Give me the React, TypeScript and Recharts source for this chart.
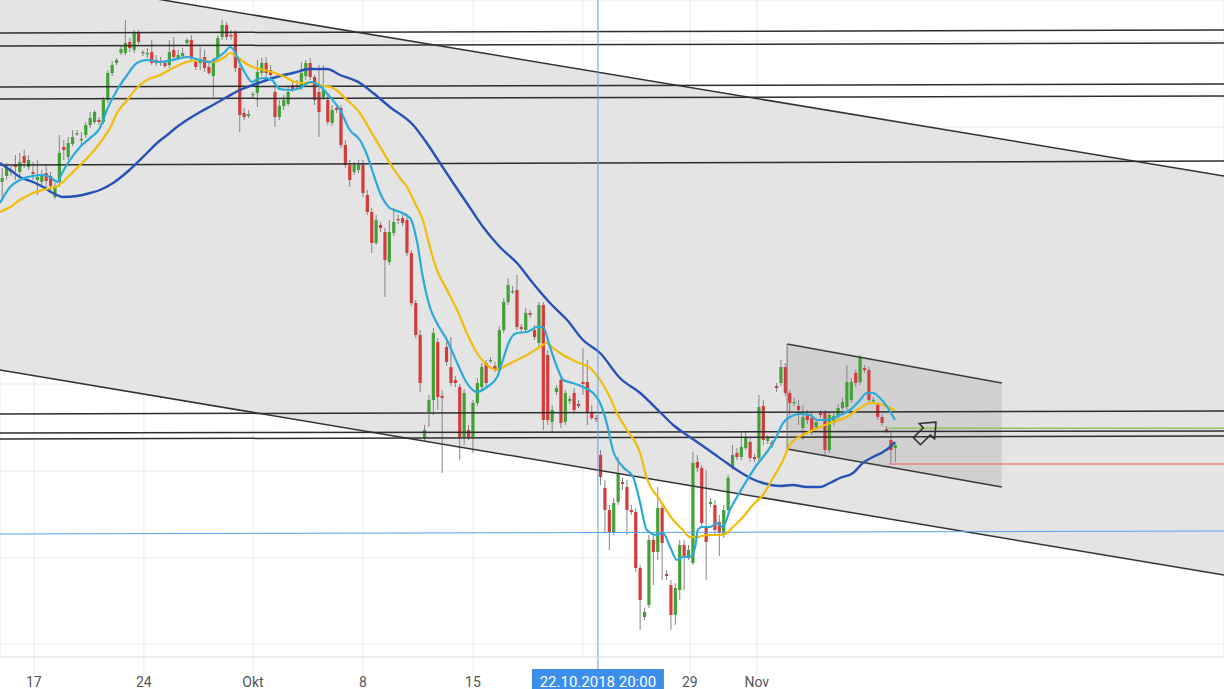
import React from 'react';
import {
  ComposedChart, Bar, Line, Area, XAxis, YAxis, CartesianGrid, ReferenceLine, ReferenceDot,
} from 'recharts';

const W = 1224;
const H = 689;

// one unit on the time axis = one bar slot, price in chart points (axis hidden in the screenshot)
const opens = [
  818, 824, 830, 835, 828, 844, 833, 828, 820, 818,
  827, 824, 803, 818, 853, 843, 856, 866, 860, 865,
  875, 878, 880, 878, 900, 927, 937, 947, 947, 958,
  950, 967, 947, 946, 948, 940, 938, 937, 935, 950,
  942, 944, 957, 960, 938, 937, 943, 933, 924, 943,
  963, 975, 965, 967, 932, 887, 884, 905, 907, 927,
  937, 930, 908, 883, 894, 896, 915, 915, 913, 924,
  937, 923, 908, 903, 900, 877, 892, 892, 855, 835,
  828, 830, 835, 805, 788, 757, 775, 768, 738, 767,
  781, 782, 780, 747, 697, 665, 562, 588, 600, 658,
  604, 653, 633, 620, 613, 563, 570, 563, 597, 613,
  637, 639, 634, 630, 670, 698, 708, 710, 673, 670,
  687, 670, 657, 695, 645, 578, 608, 620, 578, 599,
  607, 596, 618, 618, 587, 582, 545, 512, 490, 468,
  498, 518, 513, 490, 488, 432, 383, 395, 460, 448,
  492, 426, 415, 385, 410, 455, 443, 437, 538, 532,
  472, 496, 495, 478, 465, 490, 533, 547, 543, 552,
  558, 543, 542, 594, 559, 558, 614, 617, 633, 607,
  597, 594, 572, 585, 582, 573, 587, 587, 550, 577,
  583, 592, 593, 600, 627, 618, 632, 630, 599, 595,
  583, 571, 560, 552,
];

const highs = [
  832, 837, 834, 845, 847, 850, 845, 838, 840, 830,
  835, 828, 817, 865, 860, 863, 870, 870, 868, 878,
  888, 890, 883, 903, 930, 939, 942, 955, 980, 962,
  970, 970, 950, 952, 960, 945, 943, 940, 960, 963,
  950, 952, 962, 965, 942, 953, 950, 938, 942, 965,
  980, 978, 970, 970, 935, 892, 890, 908, 940, 942,
  943, 935, 915, 900, 905, 915, 920, 920, 938, 940,
  942, 925, 935, 935, 905, 895, 895, 895, 860, 840,
  838, 840, 840, 810, 792, 785, 778, 772, 780, 792,
  785, 785, 785, 750, 700, 670, 575, 605, 672, 662,
  610, 663, 663, 624, 616, 611, 575, 600, 622, 637,
  640, 643, 638, 674, 702, 722, 714, 725, 676, 692,
  690, 675, 698, 698, 650, 595, 615, 625, 610, 604,
  612, 600, 652, 640, 595, 585, 550, 520, 495, 502,
  543, 522, 520, 495, 492, 435, 392, 465, 465, 513,
  495, 430, 420, 417, 460, 460, 455, 548, 545, 535,
  530, 502, 500, 485, 495, 525, 555, 552, 568, 568,
  562, 546, 605, 600, 565, 560, 617, 640, 637, 610,
  602, 600, 595, 590, 588, 582, 590, 590, 588, 588,
  596, 602, 635, 622, 630, 645, 635, 633, 603, 598,
  586, 574, 568, 558,
];

const lows = [
  803, 820, 824, 820, 823, 832, 830, 820, 805, 814,
  812, 810, 801, 813, 840, 840, 854, 864, 853, 862,
  872, 876, 875, 876, 897, 924, 935, 945, 945, 948,
  947, 956, 944, 942, 935, 934, 934, 932, 932, 940,
  940, 942, 954, 938, 930, 930, 928, 925, 903, 940,
  960, 960, 960, 928, 868, 880, 882, 902, 893, 924,
  922, 920, 873, 880, 890, 894, 908, 910, 910, 920,
  920, 895, 863, 900, 875, 874, 887, 852, 832, 813,
  825, 827, 803, 785, 747, 755, 768, 703, 735, 764,
  776, 774, 744, 694, 662, 608, 559, 573, 585, 590,
  527, 634, 614, 613, 540, 555, 560, 547, 594, 610,
  614, 637, 628, 627, 667, 695, 706, 670, 668, 667,
  682, 660, 653, 570, 575, 568, 605, 572, 575, 596,
  587, 592, 605, 575, 580, 578, 515, 467, 450, 465,
  495, 510, 465, 485, 428, 370, 380, 392, 415, 440,
  420, 420, 370, 375, 400, 410, 440, 435, 528, 472,
  420, 493, 465, 444, 462, 488, 530, 540, 540, 550,
  538, 538, 538, 555, 556, 552, 608, 614, 604, 585,
  594, 575, 560, 576, 565, 570, 582, 545, 547, 574,
  580, 590, 590, 597, 613, 615, 627, 597, 597, 580,
  574, 567, 537, 538,
];

const closes = [
  822, 832, 828, 833, 838, 837, 840, 826, 823, 825,
  819, 814, 814, 847, 850, 857, 863, 867, 861, 875,
  882, 888, 878, 900, 927, 935, 940, 951, 957, 952,
  967, 958, 948, 947, 937, 937, 939, 934, 948, 943,
  945, 947, 960, 942, 933, 939, 932, 927, 940, 962,
  975, 963, 964, 932, 885, 883, 886, 906, 928, 937,
  927, 925, 883, 894, 900, 908, 910, 913, 927, 937,
  923, 900, 888, 910, 878, 890, 890, 855, 835, 820,
  835, 835, 807, 788, 757, 780, 772, 740, 768, 778,
  780, 777, 747, 697, 665, 617, 570, 600, 667, 603,
  602, 638, 617, 617, 563, 607, 563, 597, 617, 633,
  617, 640, 630, 670, 698, 715, 709, 673, 671, 687,
  685, 663, 695, 580, 580, 590, 612, 577, 607, 601,
  590, 594, 616, 587, 582, 581, 523, 490, 468, 497,
  527, 516, 490, 488, 432, 400, 388, 460, 448, 492,
  457, 424, 385, 412, 455, 443, 450, 537, 532, 477,
  458, 498, 470, 467, 490, 522, 545, 543, 553, 562,
  542, 541, 593, 560, 562, 555, 612, 633, 607, 597,
  598, 590, 583, 580, 570, 578, 585, 550, 585, 584,
  592, 598, 618, 618, 617, 643, 630, 600, 600, 583,
  577, 569, 550, 555,
];

// moving averages, [bar, value]
const fastMa = [
  [0, 797], [2.3, 813], [4.5, 820], [7.5, 824], [9.5, 825], [11.4, 823], [13, 818], [14.1, 827],
  [15.9, 840], [18.2, 853], [20.5, 862], [22.7, 872], [24.3, 890], [26.6, 910], [28.9, 925],
  [31.1, 937], [33.4, 940], [36.4, 938], [39.3, 940], [42.5, 943], [45.5, 940], [47.7, 938],
  [49.3, 942], [51.1, 948], [52.3, 953], [53.4, 948], [54.5, 937], [55.7, 927], [57.3, 918],
  [58.6, 921], [60.2, 922], [61.8, 920], [63.6, 911], [65.9, 910], [68.2, 912], [70.5, 918],
  [72.7, 914], [75, 903], [77.3, 890], [79.5, 870], [81.8, 860], [83.6, 843], [84.8, 827],
  [86.4, 807], [88.6, 792], [90.9, 788], [93.2, 782], [94.8, 758], [96.1, 723], [97.7, 693],
  [99.3, 677], [101.6, 660], [103.9, 637], [106.1, 617], [108.4, 608], [110.7, 613], [113, 623],
  [114.3, 640], [115.9, 660], [117.5, 667], [119.8, 668], [122, 673], [123.4, 673], [125, 653],
  [126.6, 633], [128, 620], [130.2, 617], [132.5, 613], [134.8, 607], [136.4, 597], [138, 575],
  [139.3, 550], [141.6, 533], [143.9, 523], [145.5, 497], [147, 470], [149.3, 465], [150.7, 467],
  [152.3, 453], [153.9, 440], [155.2, 443], [156.8, 443], [158, 453], [158.6, 470], [159.5, 473],
  [161.4, 473], [163, 477], [164.3, 473], [165.9, 490], [167.5, 503], [169.8, 520], [172, 535],
  [174.3, 548], [176.1, 560], [178, 577], [179.5, 583], [181.8, 586], [184.1, 585], [185.7, 580],
  [188, 580], [190.9, 585], [193.2, 590], [195.5, 600], [197, 607], [198.4, 607], [200, 602],
  [201.8, 592], [203.4, 580],
];

const midMa = [
  [0, 788], [2.3, 793], [4.5, 800], [7.5, 807], [9.8, 810], [11.4, 812], [13, 814], [14.3, 818],
  [15.9, 825], [18.2, 835], [20.5, 845], [22.7, 857], [25, 872], [26.6, 887], [28.9, 900],
  [31.1, 912], [33.4, 920], [36.4, 925], [39.3, 932], [42.5, 938], [45.5, 940], [48.4, 938],
  [51.1, 943], [52.3, 947], [53.9, 943], [55.7, 937], [58, 932], [60.2, 930], [62.5, 927],
  [64.8, 923], [67, 918], [69.3, 917], [71.6, 917], [72.7, 915], [75.7, 912], [78.9, 900],
  [81.8, 887], [84.1, 870], [86.4, 853], [88.6, 837], [90.9, 822], [92.5, 813], [94.3, 797],
  [96.1, 780], [97.7, 753], [99.3, 730], [101.6, 710], [103.9, 690], [106.1, 667], [108.4, 647],
  [110.7, 635], [113, 630], [115.2, 635], [117.5, 640], [119.8, 645], [122.7, 653], [124.3, 657],
  [125.7, 652], [128, 645], [131.1, 638], [134.1, 632], [136.4, 620], [138.6, 603], [140.2, 587],
  [142.5, 570], [145.5, 547], [147, 522], [150, 500], [153, 480], [155.2, 470], [156.8, 463],
  [158.4, 463], [160.7, 465], [163.6, 465], [165.2, 467], [166.6, 473], [168.9, 483], [171.1, 495],
  [173.4, 505], [175.7, 522], [178, 540], [179.5, 555], [183.4, 567], [186.4, 573], [189.3, 578],
  [192.5, 583], [195.5, 592], [197.7, 597], [200, 596], [202.3, 592], [203.4, 590],
];

const slowMa = [
  [0, 837], [2.3, 830], [4.5, 823], [7.5, 818], [9.8, 813], [12, 807], [14.3, 803], [17.5, 804],
  [20.5, 807], [22.7, 810], [25.7, 817], [28.9, 828], [31.1, 837], [33.4, 847], [35.7, 857],
  [38, 865], [40.2, 873], [42.5, 880], [45.5, 888], [48.4, 895], [51.6, 903], [54.5, 910],
  [57.5, 915], [60.7, 920], [63.6, 924], [66.6, 927], [70.5, 931], [74.3, 931], [77.3, 925],
  [81.8, 917], [84.8, 907], [88.6, 893], [93.9, 875], [97, 857], [100, 837], [103, 817],
  [106.1, 797], [109.8, 773], [113.6, 753], [117.5, 737], [121.1, 717], [125, 697], [128.9, 680],
  [132.5, 660], [136.4, 647], [140.9, 622], [145.5, 607], [150, 588], [153, 575], [156.1, 565],
  [159.1, 556], [162, 547], [165.2, 537], [168.2, 528], [170.5, 522], [173.4, 517], [177.3, 514],
  [180.2, 515], [183.4, 513], [186.4, 513], [188.6, 517], [190.9, 522], [193.9, 527], [196.1, 537],
  [198.4, 543], [200.7, 548], [202.3, 553], [203.4, 558],
];

const tickBars = [7.7, 32.7, 57.5, 82.5, 107.5, 132.5, 156.8, 172];
// the "22" tick sits under the crosshair date box
const tickLabels = ['17', '24', 'Okt', '8', '15', '', '29', 'Nov'];
const gridPrices = [356, 442, 529, 616, 702, 787, 873, 959];

const X_MAX = 278.2;
const Y_MIN = 343;
const Y_MAX = 1000;

// drawings
const channelTop = [1027, 824];
const channelBottom = [630, 425];
const boxFrom = 178.9;
const boxTo = 227.7;
const boxTop = [656, 617];
const boxBottom = [551, 513];
const levels = [
  [967, 970], [954, 957], [913, 916], [901, 904], [835, 839], [586, 589], [567, 569], [561, 564],
];
const targetLevel = 571.7;
const stopLevel = 536;
const levelsFrom = 202;
const crossBar = 135.9;
const crossPrice = [466, 469];
const crossText = '22.10.2018 20:00';
const arrowAt = [210.5, 568];

const candles = opens.map((o, i) => ({
  x: i + 0.5, open: o, high: highs[i], low: lows[i], close: closes[i],
}));
const toPts = (arr: number[][]) => arr.map(([x, v]) => ({ x, v }));

const channelData = [
  { x: 0, band: [channelBottom[0], channelTop[0]] },
  { x: X_MAX, band: [channelBottom[1], channelTop[1]] },
];
const boxData = [
  { x: boxFrom, band: [boxBottom[0], boxTop[0]] },
  { x: boxTo, band: [boxBottom[1], boxTop[1]] },
];

const FONT = "Roboto, 'Liberation Sans', Arial, sans-serif";

const Candle = (props: any) => {
  const { x, y, width, height, payload } = props;
  if (!payload) return null;
  const { open, close, high, low } = payload;
  const h = Math.abs(height);
  const top = height < 0 ? y + height : y;
  const k = h / Math.max(high - low, 0.0001);
  const yo = top + (high - open) * k;
  const yc = top + (high - close) * k;
  const up = close >= open;
  const cx = x + width / 2;
  const bTop = Math.min(yo, yc);
  const bH = Math.max(Math.abs(yc - yo), 1.3);
  return (
    <g>
      <line x1={cx} x2={cx} y1={top} y2={top + h} stroke="#858585" strokeWidth={1} />
      <rect x={cx - 1.6} y={bTop} width={3.2} height={bH} fill={up ? '#43a036' : '#d43c3c'} />
    </g>
  );
};

const AxisTick = (props: any) => {
  const { x, y, payload } = props;
  const idx = tickBars.indexOf(payload.value);
  const label = idx >= 0 ? tickLabels[idx] : '';
  if (!label) return null;
  return (
    <g>
      <line x1={x} x2={x} y1={y - 21} y2={y - 1} stroke="#ececec" strokeWidth={1} />
      <text x={x} y={y + 8.5} textAnchor="middle" fill="#555" fontSize={14} fontFamily={FONT}>
        {label}
      </text>
    </g>
  );
};

const CrossLabel = (props: any) => {
  const { viewBox } = props;
  if (!viewBox) return null;
  const { x, y, height } = viewBox;
  const bottom = y + height;
  return (
    <g>
      <line x1={x} x2={x} y1={bottom} y2={bottom + 12} stroke="#5aa0f2" strokeWidth={1} />
      <rect x={x - 66} y={bottom + 12} width={132} height={24} fill="#3d8eea" />
      <text x={x} y={bottom + 29.5} textAnchor="middle" fill="#fff" fontSize={15} fontFamily={FONT}>
        {crossText}
      </text>
    </g>
  );
};

const ArrowMark = (props: any) => {
  const { cx, cy } = props;
  return (
    <g transform={`translate(${cx},${cy}) rotate(-45)`}>
      <path
        d="M -13 -5 L 1 -5 L 1 -11 L 14 0 L 1 11 L 1 5 L -13 5 Z"
        fill="none"
        stroke="#333"
        strokeWidth={1.6}
        strokeLinejoin="round"
      />
    </g>
  );
};

const App: React.FC = () => {
  return (
    <div style={{ position: 'fixed', left: 0, top: 0, width: W, height: H, background: '#fff', overflow: 'hidden' }}>
      <ComposedChart width={W} height={H} data={candles} margin={{ top: 0, right: 0, bottom: 0, left: 0 }}>
        <Area
          data={channelData}
          dataKey="band"
          type="linear"
          fill="#e4e4e4"
          fillOpacity={1}
          stroke="none"
          dot={false}
          activeDot={false}
          isAnimationActive={false}
        />
        <CartesianGrid stroke="rgba(0,0,0,0.055)" strokeWidth={1.5} />
        <XAxis
          type="number"
          dataKey="x"
          domain={[0, X_MAX]}
          allowDataOverflow
          ticks={tickBars}
          interval={0}
          height={32}
          axisLine={{ stroke: '#e2e2e2' }}
          tickLine={false}
          tickSize={20}
          tickMargin={1}
          tick={<AxisTick />}
        />
        <YAxis type="number" domain={[Y_MIN, Y_MAX]} allowDataOverflow ticks={gridPrices} hide />
        <Area
          data={boxData}
          dataKey="band"
          type="linear"
          fill="#000"
          fillOpacity={0.085}
          stroke="none"
          dot={false}
          activeDot={false}
          isAnimationActive={false}
        />
        <ReferenceLine
          segment={[{ x: 0, y: channelTop[0] }, { x: X_MAX, y: channelTop[1] }]}
          stroke="#333"
          strokeWidth={1.5}
          ifOverflow="hidden"
        />
        <ReferenceLine
          segment={[{ x: 0, y: channelBottom[0] }, { x: X_MAX, y: channelBottom[1] }]}
          stroke="#333"
          strokeWidth={1.5}
          ifOverflow="hidden"
        />
        {levels.map(([a, b], i) => (
          <ReferenceLine
            key={i}
            segment={[{ x: 0, y: a }, { x: X_MAX, y: b }]}
            stroke="#2e2e2e"
            strokeWidth={1.5}
            ifOverflow="hidden"
          />
        ))}
        <ReferenceLine
          segment={[{ x: boxFrom, y: boxTop[0] }, { x: boxTo, y: boxTop[1] }]}
          stroke="#3a3a3a"
          strokeWidth={1.5}
        />
        <ReferenceLine
          segment={[{ x: boxFrom, y: boxBottom[0] }, { x: boxTo, y: boxBottom[1] }]}
          stroke="#3a3a3a"
          strokeWidth={1.5}
        />
        <ReferenceLine
          segment={[{ x: boxFrom, y: boxBottom[0] }, { x: boxFrom, y: boxTop[0] }]}
          stroke="#777"
          strokeWidth={1}
        />
        <ReferenceLine
          segment={[{ x: levelsFrom, y: targetLevel }, { x: X_MAX, y: targetLevel }]}
          stroke="#8cc65a"
          strokeWidth={1.5}
          ifOverflow="hidden"
        />
        <ReferenceLine
          segment={[{ x: levelsFrom, y: stopLevel }, { x: X_MAX, y: stopLevel }]}
          stroke="#e88585"
          strokeWidth={1.5}
          ifOverflow="hidden"
        />
        <ReferenceLine
          segment={[{ x: 0, y: crossPrice[0] }, { x: X_MAX, y: crossPrice[1] }]}
          stroke="#5aa0f2"
          strokeWidth={1}
          ifOverflow="hidden"
        />
        <Bar
          dataKey={(d: any) => [d.low, d.high]}
          shape={<Candle />}
          barSize={3}
          activeBar={false}
          isAnimationActive={false}
        />
        <Line data={toPts(slowMa)} dataKey="v" type="monotone" stroke="#2652b8" strokeWidth={2.4} dot={false} activeDot={false} isAnimationActive={false} />
        <Line data={toPts(midMa)} dataKey="v" type="monotone" stroke="#f2bc0a" strokeWidth={2.2} dot={false} activeDot={false} isAnimationActive={false} />
        <Line data={toPts(fastMa)} dataKey="v" type="monotone" stroke="#2aaad8" strokeWidth={2.2} dot={false} activeDot={false} isAnimationActive={false} />
        <ReferenceLine x={crossBar} stroke="#5aa0f2" strokeWidth={1} label={<CrossLabel />} />
        <ReferenceDot x={arrowAt[0]} y={arrowAt[1]} shape={<ArrowMark />} />
      </ComposedChart>
    </div>
  );
};

export default App;
